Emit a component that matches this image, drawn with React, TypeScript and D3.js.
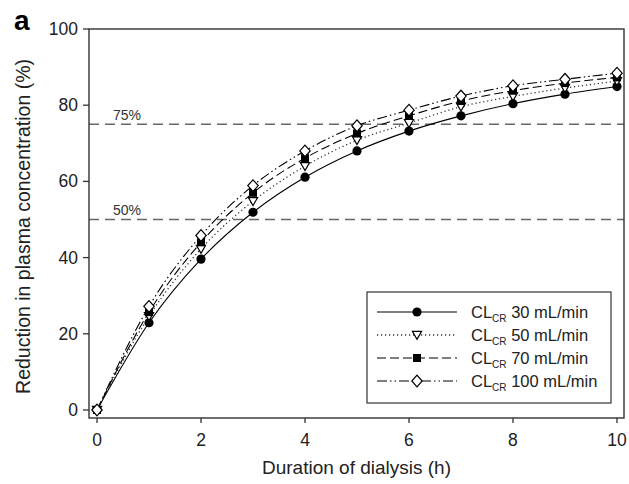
import React from "react";
import * as d3 from "d3";

const hours = [0, 1, 2, 3, 4, 5, 6, 7, 8, 9, 10];
const cl30 = [0, 22.9, 39.6, 51.9, 61.1, 68.0, 73.2, 77.2, 80.4, 82.9, 84.9];
const cl50 = [0, 24.6, 42.3, 54.8, 64.0, 70.8, 75.3, 79.6, 82.3, 84.5, 86.3];
const cl70 = [0, 25.7, 44.0, 57.0, 66.1, 72.6, 77.2, 81.1, 83.8, 85.8, 87.3];
const cl100 = [0, 27.2, 45.8, 58.9, 68.0, 74.6, 78.7, 82.4, 85.1, 86.8, 88.4];
const seriesNames = ["30 mL/min", "50 mL/min", "70 mL/min", "100 mL/min"];
const xTicks = [0, 2, 4, 6, 8, 10];
const yTicks = [0, 20, 40, 60, 80, 100];
const refLines = [50, 75];

const width = 629;
const height = 484;
const left = 89;
const right = 624;
const top = 29;
const bottom = 418;
const font = "'Liberation Sans', Arial, sans-serif";

const styles = [
  { dash: "none", marker: "circle" },
  { dash: "1.2,2.8", marker: "triangle" },
  { dash: "9,4", marker: "square" },
  { dash: "10,3,1.5,3,1.5,3", marker: "diamond" },
];

const Marker = ({ type, x, y }) => {
  if (type === "circle") return <circle cx={x} cy={y} r={4.6} fill="#000" />;
  if (type === "square")
    return <rect x={x - 4} y={y - 4} width={8} height={8} fill="#000" />;
  if (type === "triangle")
    return (
      <path
        d={`M${x - 4.6},${y - 3.6}L${x + 4.6},${y - 3.6}L${x},${y + 4.4}Z`}
        fill="#fff"
        stroke="#000"
        strokeWidth={1.2}
      />
    );
  return (
    <path
      d={`M${x},${y - 5.8}L${x + 5.2},${y}L${x},${y + 5.8}L${x - 5.2},${y}Z`}
      fill="#fff"
      stroke="#000"
      strokeWidth={1.2}
    />
  );
};

const App = () => {
  const x = d3.scaleLinear().domain([-0.154, 10.135]).range([left, right]);
  const y = d3.scaleLinear().domain([-2.1, 100]).range([bottom, top]);
  const allSeries = [cl30, cl50, cl70, cl100];

  const line = d3
    .line<number>()
    .x((d, i) => x(hours[i]))
    .y((d) => y(d))
    .curve(d3.curveMonotoneX);

  const legendX = 367;
  const legendY = 292;
  const rowH = 23;

  return (
    <svg
      width={width}
      height={height}
      style={{ position: "absolute", left: 0, top: 0, background: "#fff" }}
      fontFamily={font}
    >
      <rect width={width} height={height} fill="#fff" />

      {refLines.map((v) => (
        <g key={v}>
          <line
            x1={left}
            x2={right}
            y1={y(v)}
            y2={y(v)}
            stroke="#666"
            strokeWidth={1.3}
            strokeDasharray="10,6"
          />
          <text x={113} y={y(v) - 4} fontSize={14} fill="#333">
            {v}%
          </text>
        </g>
      ))}

      {allSeries.map((s, i) => (
        <path
          key={i}
          d={line(s) || ""}
          fill="none"
          stroke={i === 1 ? "#333" : "#000"}
          strokeWidth={i === 1 ? 1.3 : 1.1}
          strokeDasharray={styles[i].dash}
        />
      ))}
      {allSeries.map((s, i) =>
        s.map((v, j) => (
          <Marker key={`${i}-${j}`} type={styles[i].marker} x={x(hours[j])} y={y(v)} />
        ))
      )}

      <rect
        x={left}
        y={top}
        width={right - left}
        height={bottom - top}
        fill="none"
        stroke="#333"
        strokeWidth={1.4}
      />

      {xTicks.map((t) => (
        <g key={t}>
          <line x1={x(t)} x2={x(t)} y1={bottom} y2={bottom + 5} stroke="#333" strokeWidth={1.3} />
          <text x={x(t)} y={bottom + 28} fontSize={17.5} textAnchor="middle" fill="#222">
            {t}
          </text>
        </g>
      ))}
      {yTicks.map((t) => (
        <g key={t}>
          <line x1={left - 6} x2={left} y1={y(t)} y2={y(t)} stroke="#333" strokeWidth={1.3} />
          <text x={left - 11} y={y(t) + 6} fontSize={17.5} textAnchor="end" fill="#222">
            {t}
          </text>
        </g>
      ))}

      <text x={(left + right) / 2} y={474} fontSize={19} textAnchor="middle" fill="#222">
        Duration of dialysis (h)
      </text>
      <text
        transform={`translate(30,${(top + bottom) / 2 + 3}) rotate(-90)`}
        fontSize={19.5}
        textAnchor="middle"
        fill="#222"
      >
        Reduction in plasma concentration (%)
      </text>
      <text x={14} y={30} fontSize={28} fontWeight="bold" fill="#000">
        a
      </text>

      <rect
        x={legendX}
        y={legendY}
        width={244}
        height={111}
        fill="#fff"
        stroke="#333"
        strokeWidth={1.2}
      />
      {seriesNames.map((name, i) => {
        const ry = legendY + 20 + i * rowH;
        return (
          <g key={name}>
            <line
              x1={legendX + 10}
              x2={legendX + 90}
              y1={ry}
              y2={ry}
              stroke={i === 1 ? "#333" : "#000"}
              strokeWidth={i === 1 ? 1.3 : 1.1}
              strokeDasharray={styles[i].dash}
            />
            <Marker type={styles[i].marker} x={legendX + 50} y={ry} />
            <text x={legendX + 104} y={ry + 6} fontSize={16.5} fill="#222">
              CL
              <tspan fontSize={10} dy={4}>
                CR
              </tspan>
              <tspan dy={-4}> {name}</tspan>
            </text>
          </g>
        );
      })}
    </svg>
  );
};

export default App;
